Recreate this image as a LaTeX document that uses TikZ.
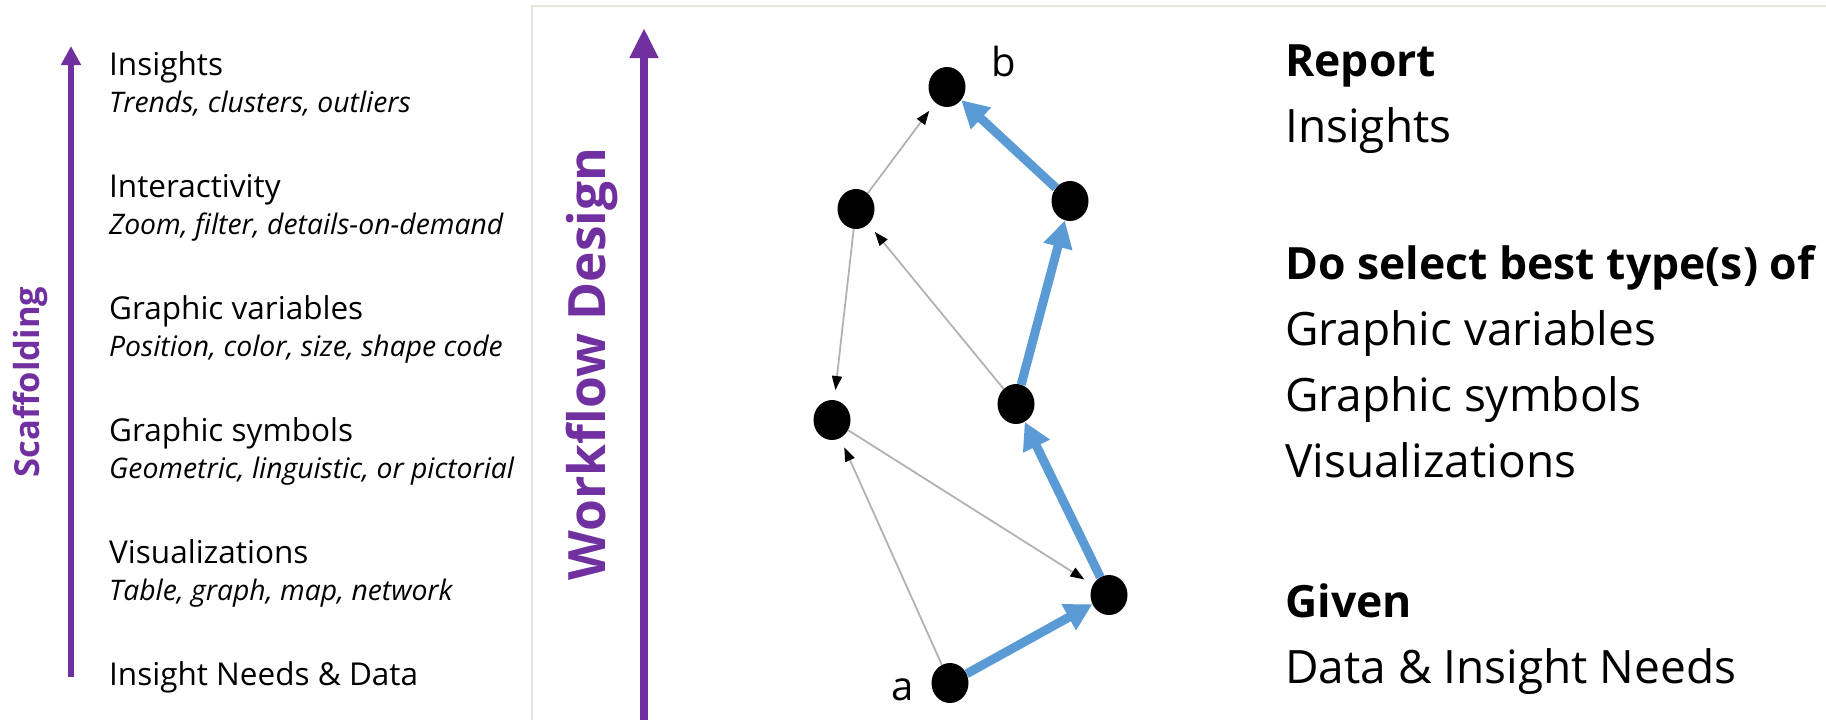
\documentclass[tikz,border=0pt]{standalone}
\usepackage{fontspec}
\setmainfont{Open Sans}
\usetikzlibrary{arrows.meta,positioning,shapes.geometric}
\definecolor{wfpurple}{HTML}{7030A0}
\definecolor{pathblue}{HTML}{5B9BD5}
\definecolor{framegray}{HTML}{E6E6DE}

\begin{document}
\begin{tikzpicture}[x=1pt,y=-1pt,
    lvl/.style={anchor=base west, inner sep=0pt, font=\fontsize{31.5}{36}\selectfont},
    lvlsub/.style={anchor=base west, inner sep=0pt, font=\fontsize{28.3}{32}\selectfont\itshape},
    side/.style={anchor=base west, inner sep=0pt, font=\fontsize{46}{55}\selectfont},
    sidehead/.style={anchor=base west, inner sep=0pt, font=\fontsize{44.5}{55}\selectfont\bfseries},
    dot/.style={ellipse, fill=black, minimum width=37pt, minimum height=40pt, inner sep=0pt},
    thinarc/.style={draw=gray!60, line width=1.8pt, -{Triangle[length=14pt,width=10pt,color=black]}, shorten >=10pt},
    bluearc/.style={draw=pathblue, line width=9pt, -{Triangle[length=27pt,width=28pt]}}
  ]
    \useasboundingbox (0,0) rectangle (1826,720);
    % frame of the right part
    \draw[framegray, line width=2pt] (532,722) -- (532,6) -- (1828,6);

    % scaffolding (left)
    \draw[wfpurple, line width=6pt, -{Triangle[length=19pt,width=19pt]}] (71,677) -- (71,46);
    \node[rotate=90, text=wfpurple, font=\fontsize{34.5}{40}\selectfont\bfseries] (scaf) at (30,382) {Scaffolding};
    \node[lvl] (l1) at (109,75) {Insights};
    \node[lvlsub] (l1s) at (109,112) {Trends, clusters, outliers};
    \node[lvl] (l2) at (109,197) {Interactivity};
    \node[lvlsub] (l2s) at (109,234) {Zoom, filter, details-on-demand};
    \node[lvl] (l3) at (109,319) {Graphic variables};
    \node[lvlsub] (l3s) at (109,356) {Position, color, size, shape code};
    \node[lvl] (l4) at (109,441) {Graphic symbols};
    \node[lvlsub] (l4s) at (109,478) {Geometric, linguistic, or pictorial};
    \node[lvl] (l5) at (109,563) {Visualizations};
    \node[lvlsub] (l5s) at (109,600) {Table, graph, map, network};
    \node[lvl] (l6) at (109,685) {Insight Needs \& Data};

    % workflow design (middle)
    \draw[wfpurple, line width=8pt, -{Triangle[length=30pt,width=27pt]}] (644,722) -- (644,28);
    \node[rotate=90, text=wfpurple, font=\fontsize{51.5}{56}\selectfont\bfseries] (wf) at (592,364) {Workflow Design};

    % graph
    \node[dot] (b) at (947,87) {};
    \node[dot] (lup) at (856,209) {};
    \node[dot] (rup) at (1070,201) {};
    \node[dot] (llow) at (832,420) {};
    \node[dot] (rmid) at (1016,404) {};
    \node[dot] (rlow) at (1109,595) {};
    \node[dot] (a) at (950,683) {};
    \node[font=\fontsize{40}{48}\selectfont] (lb) at (1004,61) {b};
    \node[font=\fontsize{40}{48}\selectfont] (la) at (903,690) {a};

    \draw[thinarc] (lup) -- (b);
    \draw[thinarc] (lup) -- (llow);
    \draw[thinarc] (rmid) -- (lup);
    \draw[thinarc] (a) -- (llow);
    \draw[thinarc] (llow) -- (rlow);

    \draw[bluearc] (a) -- (rlow);
    \draw[bluearc] (rlow) -- (rmid);
    \draw[bluearc] (rmid) -- (rup);
    \draw[bluearc] (rup) -- (b);

    % report / do / given (right)
    \node[sidehead] (r1) at (1285,76) {Report};
    \node[side] (r2) at (1285,142) {Insights};
    \node[sidehead] (d1) at (1285,279) {Do select best type(s) of};
    \node[side] (d2) at (1285,345) {Graphic variables};
    \node[side] (d3) at (1285,411) {Graphic symbols};
    \node[side] (d4) at (1285,477) {Visualizations};
    \node[sidehead] (g1) at (1285,617) {Given};
    \node[side] (g2) at (1285,683) {Data \& Insight Needs};
  \end{tikzpicture}
\end{document}
